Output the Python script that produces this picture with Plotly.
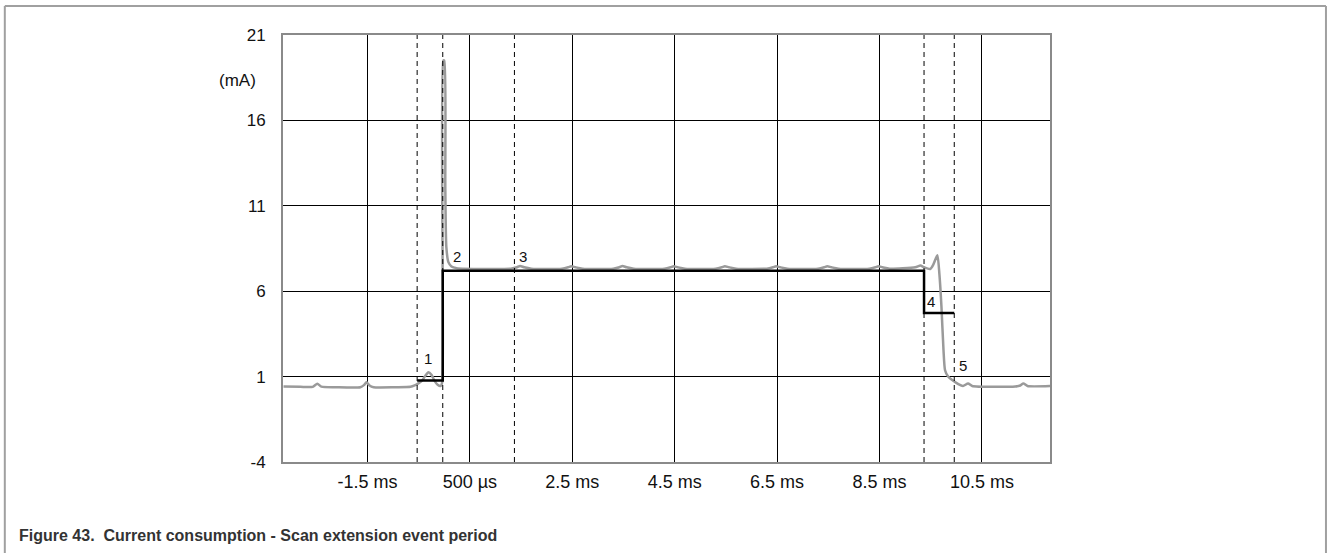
import plotly.graph_objects as go

# Measured supply current (grey trace), time in ms, current in mA
trace_ms = [-3.14, -2.81, -2.57, -2.48, -2.40, -2.12, -1.64, -1.57, -1.52, -1.46, -1.38,
            -0.95, -0.66, -0.58, -0.50, -0.43, -0.37, -0.31, -0.25, -0.19, -0.13, -0.07,
            -0.04, -0.02, 0.00, 0.02, 0.04, 0.08, 0.14, 0.24,
            1.30, 1.42, 1.48, 1.56, 1.70,
            2.30, 2.42, 2.48, 2.56, 2.70,
            3.30, 3.42, 3.48, 3.56, 3.70,
            4.30, 4.42, 4.48, 4.56, 4.70,
            5.30, 5.42, 5.48, 5.56, 5.70,
            6.30, 6.42, 6.48, 6.56, 6.70,
            7.30, 7.42, 7.48, 7.56, 7.70,
            8.30, 8.42, 8.48, 8.56, 8.70,
            9.20, 9.30, 9.37, 9.49, 9.55, 9.63, 9.67, 9.71, 9.75, 9.78, 9.84, 9.92,
            10.04, 10.13, 10.23, 10.31, 11.15, 11.25, 11.31, 11.39, 11.83]
trace_ma = [0.42, 0.40, 0.40, 0.58, 0.41, 0.38, 0.38, 0.50, 0.67, 0.48, 0.38,
            0.38, 0.40, 0.48, 0.62, 0.78, 1.05, 1.25, 1.10, 0.75, 0.52, 0.45,
            0.70, 19.5, 19.5, 12.0, 8.6, 7.7, 7.45, 7.35,
            7.32, 7.40, 7.48, 7.40, 7.32,
            7.32, 7.40, 7.46, 7.40, 7.32,
            7.32, 7.40, 7.48, 7.40, 7.32,
            7.32, 7.40, 7.46, 7.40, 7.32,
            7.32, 7.40, 7.46, 7.40, 7.32,
            7.32, 7.40, 7.46, 7.40, 7.32,
            7.32, 7.40, 7.46, 7.40, 7.32,
            7.32, 7.40, 7.46, 7.40, 7.32,
            7.40, 7.50, 7.40, 7.30, 7.55, 8.10, 7.00, 5.10, 2.55, 1.37, 1.00, 0.80,
            0.56, 0.45, 0.60, 0.45, 0.42, 0.48, 0.60, 0.45, 0.45]

# Idealised current profile (black step line)
step_ms = [-0.53, -0.03, -0.03, 9.37, 9.37, 9.96]
step_ma = [0.77, 0.77, 7.2, 7.2, 4.73, 4.73]

# Phase boundaries (dashed verticals)
phase_ms = [-0.53, -0.03, 1.37, 9.37, 9.96]

# Phase numbers and where they sit
phase_labels = ["1", "2", "3", "4", "5"]
phase_label_ms = [-0.31, 0.24, 1.53, 9.51, 10.13]
phase_label_ma = [2.08, 8.05, 8.05, 5.42, 1.67]

# Axis ticks
x_ticks = [-1.5, 0.5, 2.5, 4.5, 6.5, 8.5, 10.5]
x_tick_text = ["-1.5 ms", "500 µs", "2.5 ms", "4.5 ms", "6.5 ms", "8.5 ms", "10.5 ms"]
y_ticks = [-4, 1, 6, 11, 16, 21]
y_tick_text = ["-4", "1", "6", "11", "16", "21"]

FONT = "Liberation Sans, Arial, sans-serif"

fig = go.Figure()

fig.add_trace(go.Scatter(
    x=trace_ms, y=trace_ma, mode="lines",
    line=dict(color="#9a9a9a", width=2.5, shape="spline", smoothing=0.6),
    hoverinfo="skip", showlegend=False,
))
fig.add_trace(go.Scatter(
    x=step_ms, y=step_ma, mode="lines",
    line=dict(color="#000000", width=2.5),
    hoverinfo="skip", showlegend=False,
))

for xm in phase_ms:
    fig.add_shape(type="line", xref="x", yref="paper", x0=xm, x1=xm, y0=0, y1=1,
                  line=dict(color="#000000", width=1, dash="5px,4px"), layer="above")

for txt, xm, ym in zip(phase_labels, phase_label_ms, phase_label_ma):
    fig.add_annotation(x=xm, y=ym, xref="x", yref="y", text=txt, showarrow=False,
                       font=dict(family=FONT, size=15, color="#111111"))

fig.add_annotation(x=-0.0326, y=0.8946, xref="paper", yref="paper", text="(mA)",
                   showarrow=False, xanchor="right", yanchor="middle",
                   font=dict(family=FONT, size=17, color="#111111"))

# Frame around the whole figure (open at the bottom)
frame_l, frame_r, frame_t, frame_b = -0.3627, 1.3598, 1.0679, -0.25
for x0, y0, x1, y1 in [(frame_l, frame_b, frame_l, frame_t),
                       (frame_l, frame_t, frame_r, frame_t),
                       (frame_r, frame_t, frame_r, frame_b)]:
    fig.add_shape(type="line", xref="paper", yref="paper", x0=x0, y0=y0, x1=x1, y1=y1,
                  line=dict(color="#a0a0a0", width=2))

fig.add_annotation(x=-0.3468, y=-0.171, xref="paper", yref="paper",
                   text="<b>Figure 43.  Current consumption - Scan extension event period</b>",
                   showarrow=False, xanchor="left", yanchor="middle",
                   font=dict(family=FONT, size=16, color="#333333"))

fig.update_layout(
    width=1328, height=553,
    margin=dict(l=283, r=278, t=35, b=91),
    paper_bgcolor="white", plot_bgcolor="white",
    font=dict(family=FONT, size=15, color="#111111"),
)
fig.update_xaxes(
    range=[-3.15, 11.83], tickvals=x_ticks, ticktext=x_tick_text,
    showgrid=True, gridcolor="#000000", gridwidth=1, zeroline=False,
    showline=True, mirror=True, linecolor="#8a8a8a", linewidth=2,
    ticks="", ticklabelstandoff=2, tickfont=dict(family=FONT, size=18),
)
fig.update_yaxes(
    range=[-4, 21], tickvals=y_ticks, ticktext=y_tick_text,
    showgrid=True, gridcolor="#000000", gridwidth=1, zeroline=False,
    showline=True, mirror=True, linecolor="#8a8a8a", linewidth=2,
    ticks="", ticklabelstandoff=12, tickfont=dict(family=FONT, size=17),
)

fig.write_html("out.html")
